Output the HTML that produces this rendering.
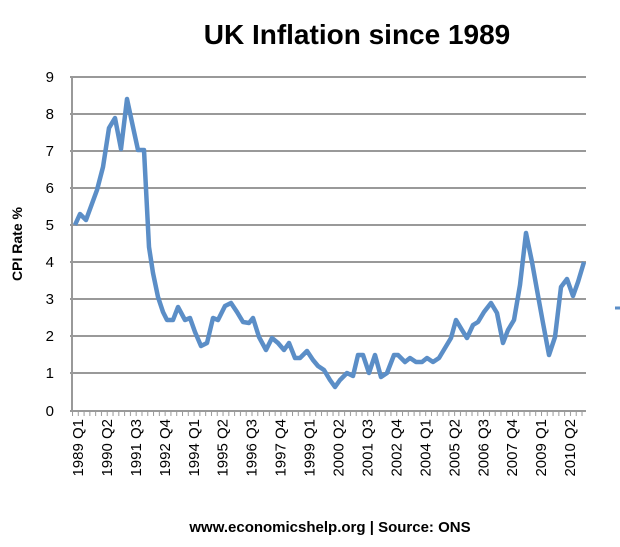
<!DOCTYPE html>
<html><head><style>body{margin:0;background:#fff}svg{display:block}</style></head><body>
<svg width="620" height="547" xmlns="http://www.w3.org/2000/svg" font-family="Liberation Sans, sans-serif">
<defs><pattern id="tk" x="72" y="0" width="5.79" height="10" patternUnits="userSpaceOnUse"><rect x="0" y="0" width="1" height="10" fill="#999"/></pattern></defs>
<text x="357" y="44" font-size="28" font-weight="bold" text-anchor="middle" fill="#000">UK Inflation since 1989</text>
<g stroke="#999" stroke-width="2">
<line x1="70" y1="77" x2="586" y2="77"/><line x1="70" y1="114" x2="586" y2="114"/><line x1="70" y1="151" x2="586" y2="151"/><line x1="70" y1="188" x2="586" y2="188"/><line x1="70" y1="225" x2="586" y2="225"/><line x1="70" y1="262" x2="586" y2="262"/><line x1="70" y1="299" x2="586" y2="299"/><line x1="70" y1="336" x2="586" y2="336"/><line x1="70" y1="373" x2="586" y2="373"/><line x1="70" y1="411" x2="586" y2="411"/>
<line x1="72" y1="77" x2="72" y2="411"/>
</g>
<rect x="72" y="411" width="513" height="5" fill="url(#tk)"/>
<g font-size="15" text-anchor="end" fill="#000">
<text x="54" y="82">9</text><text x="54" y="119">8</text><text x="54" y="156">7</text><text x="54" y="193">6</text><text x="54" y="230">5</text><text x="54" y="267">4</text><text x="54" y="304">3</text><text x="54" y="341">2</text><text x="54" y="378">1</text><text x="54" y="416">0</text>
</g>
<text transform="translate(22,244) rotate(-90)" font-size="14" font-weight="bold" text-anchor="middle">CPI Rate %</text>
<g font-size="15" text-anchor="end">
<text transform="translate(83,419) rotate(-90)">1989 Q1</text>
<text transform="translate(111.9,419) rotate(-90)">1990 Q2</text>
<text transform="translate(140.9,419) rotate(-90)">1991 Q3</text>
<text transform="translate(169.8,419) rotate(-90)">1992 Q4</text>
<text transform="translate(198.8,419) rotate(-90)">1994 Q1</text>
<text transform="translate(227.7,419) rotate(-90)">1995 Q2</text>
<text transform="translate(256.7,419) rotate(-90)">1996 Q3</text>
<text transform="translate(285.6,419) rotate(-90)">1997 Q4</text>
<text transform="translate(314.6,419) rotate(-90)">1999 Q1</text>
<text transform="translate(343.5,419) rotate(-90)">2000 Q2</text>
<text transform="translate(372.5,419) rotate(-90)">2001 Q3</text>
<text transform="translate(401.4,419) rotate(-90)">2002 Q4</text>
<text transform="translate(430.4,419) rotate(-90)">2004 Q1</text>
<text transform="translate(459.3,419) rotate(-90)">2005 Q2</text>
<text transform="translate(488.3,419) rotate(-90)">2006 Q3</text>
<text transform="translate(517.2,419) rotate(-90)">2007 Q4</text>
<text transform="translate(546.2,419) rotate(-90)">2009 Q1</text>
<text transform="translate(575.1,419) rotate(-90)">2010 Q2</text>
</g>
<polyline fill="none" stroke="#5b8ec7" stroke-width="4.5" stroke-linejoin="round" points="75,225 80,214 86,220 97,190 103,167 109,128 115,118 121,149 127,99 133,127 138,150 144,150 149,247 153,273 158,297 163,312 167,320 173,320 178,307 185,320 190,318 195,332 201,346 207,343 213,318 218,320 225,306 231,303 237,312 243,322 249,323 253,318 259,337 266,350 272,338 278,343 284,350 289,343 295,358 300,358 307,351 313,360 318,366 324,370 330,380 335,387 340,380 347,373 353,376 358,355 363,355 369,373 375,355 381,377 387,373 394,355 398,355 405,362 410,358 416,362 422,362 427,358 433,362 439,358 445,348 451,338 456,320 462,330 467,338 473,325 478,322 484,312 491,303 497,313 503,343 508,330 514,320 520,285 526,233 532,262 537,290 543,323 549,355 555,337 561,287 567,279 573,296 578,282 584,262"/>
<line x1="615" y1="308" x2="620" y2="308" stroke="#5b8ec7" stroke-width="3"/>
<text x="330" y="532" font-size="15" font-weight="bold" text-anchor="middle">www.economicshelp.org | Source: ONS</text>
</svg>
</body></html>
